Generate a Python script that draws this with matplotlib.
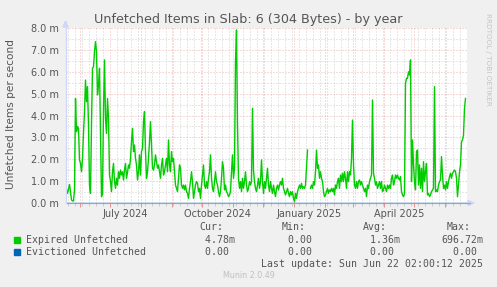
import numpy as np
import pandas as pd
import matplotlib
matplotlib.use("Agg")
import matplotlib.pyplot as plt
import matplotlib.dates as mdates
from matplotlib.lines import Line2D
from matplotlib.patches import Polygon, Rectangle

# ---------------------------------------------------------------- data
title = "Unfetched Items in Slab: 6 (304 Bytes) - by year"
ylabel = "Unfetched Items per second"
start_day = "2024-05-18"

# daily averages, milli-items per second
expired = [
    0.9, 0.6, 0.44, 0.65, 0.85, 0.52, 0.14, 0.1, 0.09, 0.6,
    4.78, 3.26, 3.5, 3.41, 1.97, 1.81, 1.43, 2.04, 3.2, 4.18,
    5.62, 4.63, 5.32, 3.57, 0.82, 0.44, 3.57, 6.16, 6.23, 6.92,
    7.38, 6.92, 4.94, 5.4, 6.16, 3.26, 0.29, 0.44, 4.33, 6.54,
    3.87, 3.18, 4.78, 3.87, 1.28, 0.98, 0.52, 1.43, 1.81, 0.98,
    0.67, 1.13, 0.82, 1.43, 1.13, 1.51, 1.28, 1.43, 1.05, 1.51,
    1.81, 1.13, 1.4, 1.74, 1.59, 2.04, 2.8, 3.41, 2.35, 2.65,
    2.04, 1.74, 1.05, 1.43, 2.2, 1.28, 2.35, 2.5, 3.72, 4.18,
    2.35, 1.13, 1.43, 2.04, 2.8, 3.72, 2.65, 1.59, 1.51, 1.74,
    2.2, 1.89, 1.59, 1.74, 1.43, 1.13, 1.74, 2.04, 1.28, 1.43,
    1.74, 2.04, 1.43, 2.88, 1.74, 1.43, 2.35, 1.89, 2.04, 1.43,
    0.82, 0.67, 0.52, 1.13, 1.74, 1.59, 0.82, 0.67, 0.82, 0.6,
    0.82, 0.52, 0.44, 0.21, 0.67, 0.98, 1.43, 0.98, 0.21, 0.52,
    0.82, 0.98, 0.9, 0.52, 0.67, 0.21, 0.82, 1.28, 1.74, 0.82,
    0.67, 0.98, 0.67, 1.13, 1.43, 2.2, 1.13, 0.67, 0.52, 0.98,
    1.43, 0.98, 0.82, 0.52, 0.29, 0.52, 1.13, 1.89, 1.59, 0.6,
    0.82, 0.52, 0.44, 0.29, 0.37, 0.52, 1.43, 2.2, 1.13, 1.59,
    6.46, 7.91, 3.57, 1.13, 0.67, 0.98, 0.52, 1.13, 0.67, 0.98,
    1.43, 0.82, 0.52, 0.67, 0.98, 0.82, 0.98, 4.33, 1.5, 0.98,
    0.67, 0.52, 0.82, 1.13, 0.67, 0.98, 1.97, 0.98, 0.44, 0.98,
    0.67, 1.13, 1.59, 0.82, 0.52, 0.98, 0.67, 0.44, 0.82, 0.52,
    0.29, 0.67, 0.82, 0.6, 0.82, 0.98, 0.82, 1.13, 0.67, 0.52,
    0.37, 0.52, 0.67, 0.44, 0.29, 0.52, 0.37, 0.52, 0.21, 0.06,
    0.44, 0.21, 0.52, 0.67, 0.82, 0.67, 0.9, 0.67, 0.74, 0.67,
    0.82, 1.59, 2.42, np.nan, np.nan, 0.67, 0.82, 0.67, 0.98, 0.82,
    1.43, 2.42, 1.59, 1.74, 1.13, 1.43, 1.13, 0.98, 0.52, 0.29,
    0.37, 0.52, 0.67, 0.44, 0.6, 0.52, 0.67, 0.52, 0.67, 0.37,
    0.82, 0.67, 0.98, 1.13, 0.67, 1.28, 0.98, 1.36, 0.98, 1.43,
    1.13, 0.67, 1.43, 0.98, 1.43, 1.28, 2.04, 3.79, 1.74, 0.82,
    0.67, 0.98, 0.67, 0.98, 1.05, 0.82, 0.98, 0.82, 0.67, 0.52,
    0.67, 0.29, 0.82, 0.67, 0.98, 1.13, 1.28, 4.71, 1.36, 1.13,
    0.82, 0.98, 0.67, 0.82, 0.98, 0.67, 0.98, 0.52, 0.6, 0.82,
    0.67, 0.52, 0.82, 0.67, 0.82, 0.67, 1.13, 1.28, 0.82, 0.98,
    1.28, 1.13, 1.28, 1.13, 1.05, 1.2, 0.52, 0.37, 0.29, 0.44,
    5.47, 5.7, 5.7, 6.0, 5.85, 6.54, 0.98, 2.88, 1.74, 0.98,
    0.6, 2.35, 2.42, 0.82, 1.74, 0.67, 1.59, 0.52, 1.89, 0.98,
    1.43, 1.81, 0.37, 0.44, 0.29, 0.37, 0.52, 0.6, 0.67, 5.32,
    0.52, 0.6, 0.52, 0.82, 0.98, 1.05, 2.12, 1.28, 0.67, 0.82,
    0.6, 0.98, 0.67, 0.98, 1.2, 1.36, 1.13, 1.36, 1.43, 1.51,
    1.43, 1.13, 0.29, 0.82, 1.43, 1.74, 2.8, 2.88, 3.1, 4.33,
    4.78,
]
evictioned = [0.0] * len(expired)

yticks = [0.0, 1.0, 2.0, 3.0, 4.0, 5.0, 6.0, 7.0, 8.0]
xlabels = ["July 2024", "October 2024", "January 2025", "April 2025"]
xlabel_months = ["2024-07-01", "2024-10-01", "2025-01-01", "2025-04-01"]

legend_names = ["Expired Unfetched", "Evictioned Unfetched"]
legend_colors = ["#00cc00", "#0066b3"]
cur_vals = [(4.78, "m"), (0.0, "")]
min_vals = [(0.0, ""), (0.0, "")]
avg_vals = [(1.36, "m"), (0.0, "")]
max_vals = [(696.72, "m"), (0.0, "")]
last_update = "Last update: Sun Jun 22 02:00:12 2025"
version = "Munin 2.0.49"

# ---------------------------------------------------------------- figure
W, H = 497, 287
FONT = "#555555"
fig = plt.figure(figsize=(W / 100, H / 100), dpi=100, facecolor="#f0f0f0")


def fx(x):
    return x / W


def fy(y):
    return 1 - y / H


ax = fig.add_axes([fx(65.5), fy(203), 401 / W, 175 / H])
ax.set_facecolor("white")

dates = pd.date_range(start_day, periods=len(expired), freq="D")
ax.plot(dates, evictioned, color=legend_colors[1], lw=1.0, zorder=1)
ax.plot(dates, expired, color=legend_colors[0], lw=1.0, zorder=3)

t0 = pd.Timestamp(start_day)
ax.set_xlim(t0, t0 + pd.Timedelta(days=401))
ax.set_ylim(0, 8.0)

# grid: weeks / months, half / whole units
months = pd.date_range("2024-06-01", "2025-06-01", freq="MS")
weeks = pd.date_range(start_day, dates[-1], freq="W-MON")
ax.set_xticks(months)
ax.set_xticks(weeks, minor=True)
ax.set_yticks(yticks)
ax.set_yticks(np.arange(0.5, 8.0, 1.0), minor=True)
ax.set_xticklabels([])
ax.set_yticklabels([f"{v:.1f} m" for v in yticks], fontsize=7, color=FONT)

dots = (0, (1, 2))
ax.grid(which="major", color="#e06060", alpha=0.45, lw=0.72, ls=dots)
ax.grid(which="minor", color="#999999", alpha=0.45, lw=0.72, ls=dots)
ax.tick_params(axis="x", which="major", length=3, color="#e89090", width=0.7)
ax.tick_params(axis="x", which="minor", length=2, color="#cccccc", width=0.7)
ax.tick_params(axis="y", which="both", length=0, pad=5)

for s in ["top", "right"]:
    ax.spines[s].set_visible(False)
ax.spines["left"].set_color("#cfd6f8")
ax.spines["bottom"].set_color("#8ea2dc")
ax.spines["left"].set_linewidth(0.8)
ax.spines["bottom"].set_linewidth(0.8)
ax.set_axisbelow(True)

# month labels sit half a month after the month line
for lab, m in zip(xlabels, xlabel_months):
    pos = pd.Timestamp(m) + pd.Timedelta(days=15.5)
    ax.text(mdates.date2num(pos), -0.032, lab, transform=ax.get_xaxis_transform(),
            ha="center", va="top", fontsize=7, color=FONT)

# axis extensions and arrows
fig.add_artist(Line2D([fx(65.5), fx(65.5)], [fy(203), fy(26)], color="#cfd6f8", lw=0.8))
fig.add_artist(Line2D([fx(466), fx(470)], [fy(203), fy(203)], color="#8ea2dc", lw=0.8))
fig.add_artist(Polygon([[fx(63), fy(27)], [fx(68), fy(27)], [fx(65.5), fy(21)]],
                       closed=True, color="#cfd6f8", transform=fig.transFigure))
fig.add_artist(Polygon([[fx(468), fy(200.5)], [fx(468), fy(205.5)], [fx(474), fy(203)]],
                       closed=True, color="#cfd6f8", transform=fig.transFigure))

# titles
fig.text(0.5, fy(19), title, ha="center", va="center", fontsize=9.2, color=FONT)
fig.text(fx(11), fy(114), ylabel, ha="center", va="center", rotation=90,
         fontsize=7.6, color=FONT)
fig.text(fx(488), fy(13), "RRDTOOL / TOBI OETIKER", ha="center", va="top",
         rotation=270, fontsize=5.2, color="#c4c4c4")

# legend
mono = dict(family="DejaVu Sans Mono", fontsize=7.1, color=FONT, va="center")
for hdr, x in zip(["Cur:", "Min:", "Avg:", "Max:"], [199, 282, 363, 447]):
    fig.text(fx(x), fy(227), hdr, **mono)
rows_y = [240, 252]
for i, name in enumerate(legend_names):
    y = rows_y[i]
    fig.add_artist(Rectangle((fx(14), fy(y + 3)), 6 / W, 6 / H,
                             color=legend_colors[i], transform=fig.transFigure))
    fig.text(fx(26), fy(y), name, **mono)
    for col, x in zip([cur_vals, min_vals, avg_vals, max_vals], [193, 276, 358, 441]):
        v, sfx = col[i]
        fig.text(fx(x), fy(y), f"{v:6.2f}{sfx}", **mono)
fig.text(fx(483), fy(264), last_update, ha="right", **mono)
fig.text(0.5, fy(276), version, ha="center", va="center", fontsize=5.8, color="#c0c0c0")

fig.savefig("out.png", dpi=100, facecolor=fig.get_facecolor())
